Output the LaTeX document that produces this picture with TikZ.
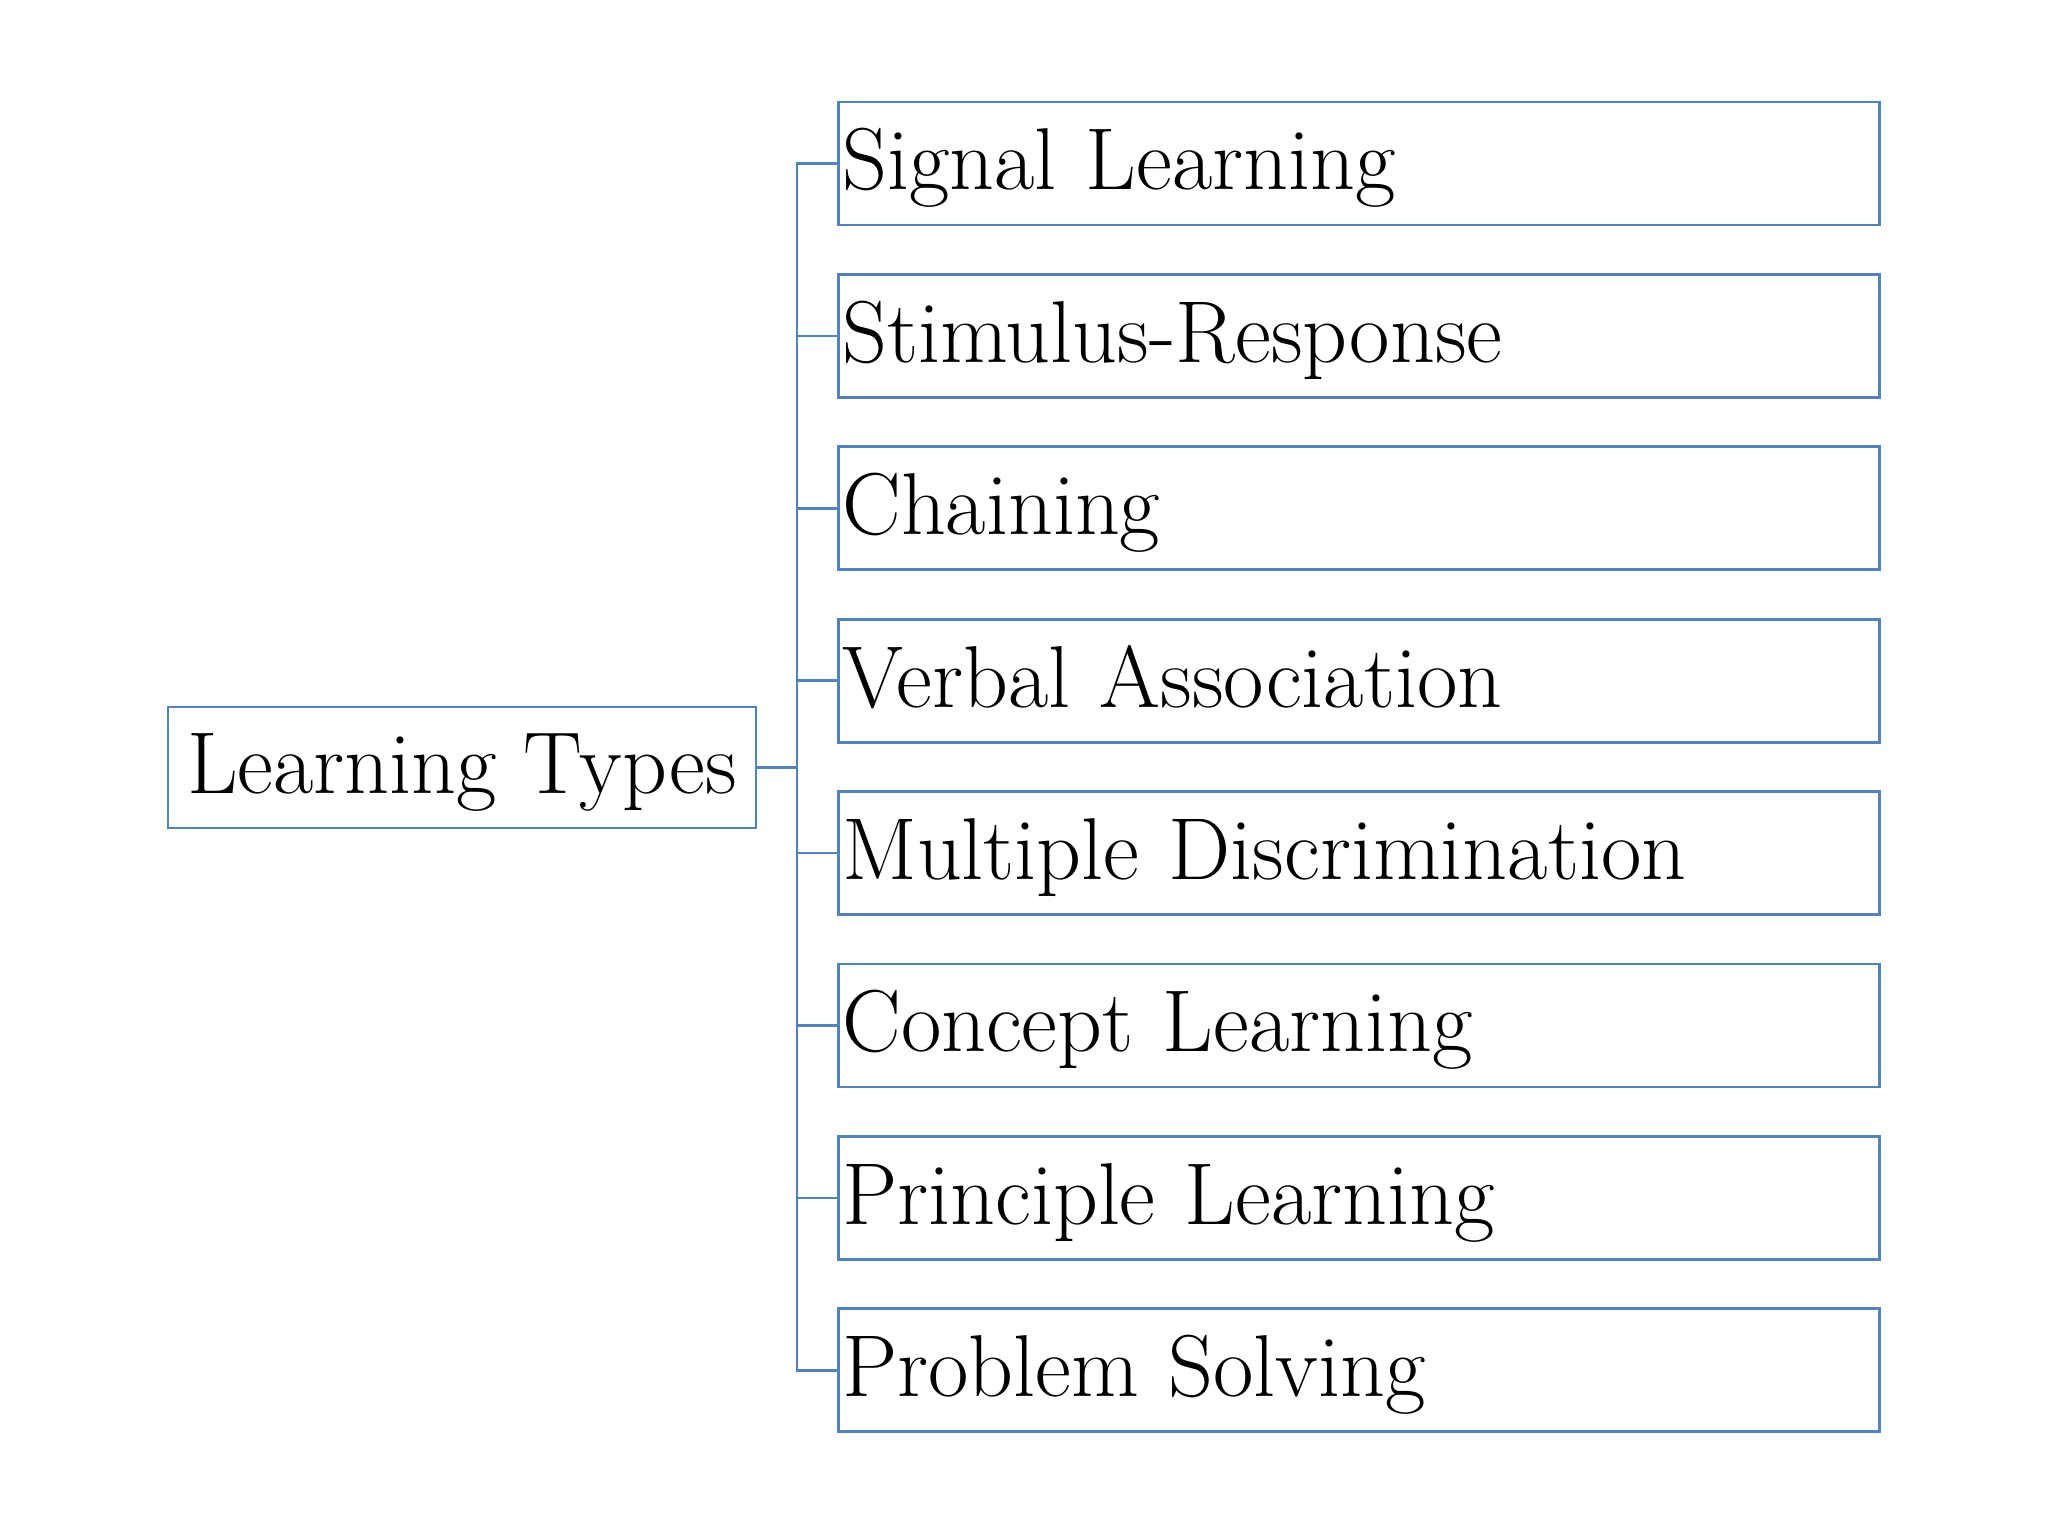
\documentclass[tikz,border=0pt]{standalone}
\usepackage{tikz}
\usetikzlibrary{positioning}
\definecolor{boxblue}{RGB}{84,130,190}

\begin{document}
\begin{tikzpicture}[x=1cm,y=1cm]
  \tikzset{font={\fontsize{25pt}{29pt}\selectfont}}
  \tikzset{typebox/.style={draw=boxblue,line width=.75pt,inner xsep=.04cm,inner ysep=0pt,
      text width=10.33cm,align=left,minimum height=1.23cm,text height=18pt,text depth=3pt,anchor=west},
    rootbox/.style={draw=boxblue,line width=.75pt,inner sep=0pt,minimum width=5.88cm,
      minimum height=1.21cm,text height=18pt,text depth=3pt},
    link/.style={draw=boxblue,line width=.75pt}}
  \useasboundingbox (0,0) rectangle (20.48,-15.36);
  % root
  \node[rootbox] (root) at (4.62,-7.675) {Learning Types};
  \coordinate (fork) at (7.97,-7.675);
  \draw[link] (root.east) -- (fork);
  % learning types
  \foreach \name [count=\i from 0] in {Signal Learning,Stimulus-Response,Chaining,Verbal Association,
      Multiple Discrimination,Concept Learning,Principle Learning,Problem Solving}{
    \node[typebox] (type\i) at (8.37,-1.635-1.724*\i) {\name};
    \draw[link] (fork) |- (type\i.west);
  }
\end{tikzpicture}
\end{document}
